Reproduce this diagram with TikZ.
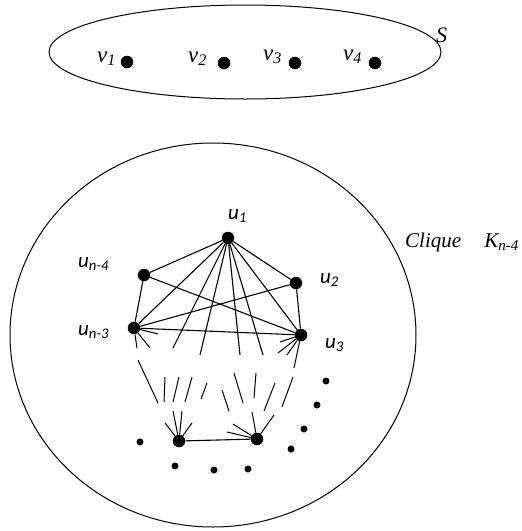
\documentclass[tikz,border=0pt]{standalone}
\usepackage{fontspec}
\setmainfont{Liberation Serif}
\newfontfamily\calfont{Carlito}
\usetikzlibrary{positioning}

\begin{document}
\begin{tikzpicture}[x=1pt, y=-1pt,
  vertex/.style={circle, fill, inner sep=0pt, minimum size=12.5pt},
  smalldot/.style={circle, fill, inner sep=0pt, minimum size=7pt},
  edge/.style={line width=1.1pt},
  stub/.style={line width=1pt},
  setline/.style={line width=1pt},
  ulabel/.style={anchor=base west, inner sep=0pt,
              font=\calfont\itshape\fontsize{21}{21}\selectfont},
  vlabel/.style={anchor=base west, inner sep=0pt,
              font=\itshape\fontsize{23}{23}\selectfont}
]
  \useasboundingbox (0,0) rectangle (522,531);

  % the set S
  \draw[setline] (245,52) ellipse [x radius=196pt, y radius=47pt];
  \node[anchor=base west, inner sep=0pt, font=\itshape\fontsize{22}{22}\selectfont]
    (slabel) at (436,42) {S};
  \node[vertex] (v1) at (127,62) {};
  \node[vertex] (v2) at (224,63) {};
  \node[vertex] (v3) at (295,63) {};
  \node[vertex] (v4) at (375,63) {};
  \node[vlabel] (lv1) at (97,62)  {v\textsubscript{1}};
  \node[vlabel] (lv2) at (188,62) {v\textsubscript{2}};
  \node[vlabel] (lv3) at (263,60) {v\textsubscript{3}};
  \node[vlabel] (lv4) at (343,60) {v\textsubscript{4}};

  % the clique
  \draw[setline] (213,335) ellipse [x radius=203pt, y radius=192pt];
  \node[anchor=base west, inner sep=0pt, font=\itshape\fontsize{21}{21}\selectfont]
    (clabel) at (405,247)
    {Clique\hspace{1.1em}K\textsubscript{\fontsize{15}{15}\selectfont n-4}};

  \node[vertex] (u1)  at (228,238) {};
  \node[vertex] (un4) at (144,275) {};
  \node[vertex] (u2)  at (296,283) {};
  \node[vertex] (un3) at (134,328) {};
  \node[vertex] (u3)  at (301,335) {};
  \node[vertex] (w1)  at (179,441) {};
  \node[vertex] (w2)  at (257,439) {};

  \node[ulabel] (lu1)  at (228,219) {u\textsubscript{1}};
  \node[ulabel] (lun4) at (78,267)  {u\textsubscript{n-4}};
  \node[ulabel] (lu2)  at (320,283) {u\textsubscript{2}};
  \node[ulabel] (lun3) at (78,335)  {u\textsubscript{n-3}};
  \node[ulabel] (lu3)  at (325,348) {u\textsubscript{3}};

  \draw[edge] (u1) -- (un4);
  \draw[edge] (u1) -- (u2);
  \draw[edge] (u1) -- (un3);
  \draw[edge] (u1) -- (u3);
  \draw[edge] (un4) -- (un3);
  \draw[edge] (un4) -- (u3);
  \draw[edge] (u2) -- (un3);
  \draw[edge] (u2) -- (u3);
  \draw[edge] (un3) -- (u3);
  \draw[edge] (w1) -- (w2);

  % broken edges towards the lower vertices
  \draw[edge] (u1) -- ++(-55,110)  (u1) -- ++(-28,117)
              (u1) -- ++(12,117)   (u1) -- ++(35,117);
  \draw[stub] (un3) -- ++(24,6)  (un3) -- ++(16,20)  (un3) -- ++(3,20);
  \draw[stub] (u3) -- ++(-21,7)  (u3) -- ++(-23,18)
              (u3) -- ++(-14,20) (u3) -- ++(-7,33);
  \draw[stub] (w1) -- ++(-14,-18) (w1) -- ++(-6,-30)
              (w1) -- ++(3,-30)   (w1) -- ++(13,-18);
  \draw[stub] (w2) -- ++(-30,-7)  (w2) -- ++(-24,-15)
              (w2) -- ++(-5,-27)  (w2) -- ++(17,-24);
  \draw[stub] (138,360) -- (158,403)  (165,377) -- (164,402)
              (179,377) -- (173,402)  (192,377) -- (185,402)
              (207,383) -- (201,399)  (222,390) -- (229,411)
              (234,373) -- (243,403)  (256,373) -- (254,398)
              (275,383) -- (264,411)  (293,377) -- (282,407);

  % further vertices
  \node[smalldot] (d1) at (140,442) {};
  \node[smalldot] (d2) at (175,466) {};
  \node[smalldot] (d3) at (214,470) {};
  \node[smalldot] (d4) at (248,469) {};
  \node[smalldot] (d5) at (291,449) {};
  \node[smalldot] (d6) at (304,429) {};
  \node[smalldot] (d7) at (317,405) {};
  \node[smalldot] (d8) at (326,381) {};
\end{tikzpicture}
\end{document}
